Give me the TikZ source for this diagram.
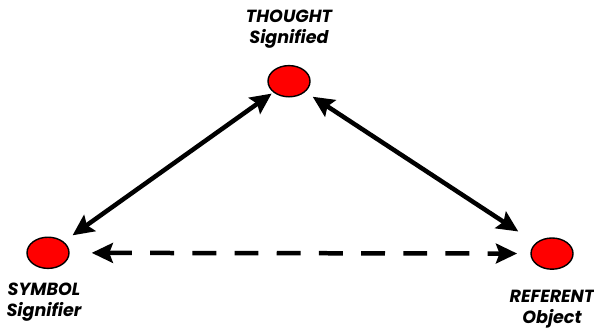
\documentclass[tikz,border=0pt]{standalone}
\usepackage{fontspec}
\setmainfont{Poppins}
\usepackage{tikz}
\usetikzlibrary{positioning, arrows.meta, shapes.geometric}
\tikzset{
    sempoint/.style={draw, ellipse, line width=1pt, fill=red, minimum width=1.05cm, minimum height=0.78cm, inner sep=0pt},
    semlbl/.style={align=center, font=\bfseries\itshape\fontsize{12.5}{15}\selectfont, inner sep=0pt},
    semarrow/.style={{Stealth[length=15pt, width=14pt, inset=2.5pt]}-{Stealth[length=15pt, width=14pt, inset=2.5pt]}, line width=3.2pt},
    semdash/.style={semarrow, dash pattern=on 17pt off 13pt},
}

\begin{document}
\begin{tikzpicture}
        \useasboundingbox (0,0) rectangle (14.85,-8.225);
        \node[sempoint] (thought)  at (7.225,-2.03) {};
        \node[sempoint] (symbol)   at (1.2,-6.32)   {};
        \node[sempoint] (referent) at (13.8,-6.34)  {};
        \node[semlbl] (thoughtlbl)  at (7.225,-0.74) {THOUGHT\\ Signified};
        \node[semlbl] (symbollbl)   at (1.1,-7.55)   {SYMBOL\\ Signifier};
        \node[semlbl] (referentlbl) at (13.8,-7.74)  {REFERENT\\ Object};
        \draw[semarrow, shorten <=0.27cm, shorten >=0.05cm] (symbol) -- (thought);
        \draw[semarrow, shorten <=0.22cm, shorten >=0.52cm] (thought) -- (referent);
        \draw[semdash, shorten <=0.55cm, shorten >=0.33cm] (symbol) -- (referent);
    \end{tikzpicture}
\end{document}
